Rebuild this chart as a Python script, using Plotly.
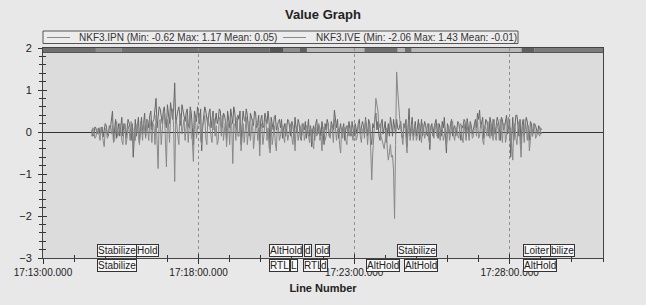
import plotly.graph_objects as go
import pandas as pd

# ---------------- data ----------------
BASE = pd.Timestamp("2024-01-01 17:13:00")
X_END_MIN = 18
DATA_START_S = 94
STEP_S = 4  # samples below at whole steps; *_mid samples lie half a step later

ipn = [
    0.05, -0.08, 0.1, 0.02, -0.05, 0.12, 0.0, 0.15, -0.1, 0.08,
    0.5, 0.1, -0.15, 0.2, 0.25, -0.1, 0.18, 0.05, 0.22, -0.2, -0.6,
    0.3, 0.1, -0.25, 0.35, 0.15, -0.1, 0.28, 0.4, 0.05, 0.3,
    0.8, 0.35, 0.55, 0.2, 0.6, 0.1, 0.45, 0.7, 0.3, 1.17,
    0.4, 0.6, 0.15, 0.5, 0.25, 0.55, 0.1, 0.45, -0.3, 0.35, 0.6, 0.2, -0.45, 0.4, 0.5, 0.15, 0.55, 0.3, 0.05, 0.45,
    0.3, 0.5, 0.1, 0.4, -0.2, 0.35, 0.55, 0.2, 0.45, 0.05, 0.3, -0.3, 0.5, 0.25, 0.4, -0.1, 0.35, 0.15, 0.45, 0.2,
    -0.3, 0.4, 0.15, 0.3, 0.5, -0.4, 0.2, 0.35, 0.05, 0.25,
    0.1, -0.15, 0.2, 0.05, 0.25, -0.1, 0.15, 0.35, 0.0, 0.2, -0.2, 0.1, 0.25, 0.05, -0.1,
    -0.35, 0.15, 0.2, -0.05, 0.1, 0.25, -0.3, 0.05, 0.2, -0.1, 0.15, 0.52, 0.1, -0.15, 0.2,
    0.05, -0.2, 0.15, 0.25, -0.1, 0.1, 0.2, -0.05, 0.3, 0.1,
    0.15, 0.35, -0.1, 0.2, -0.3, 0.1, 0.45, 0.25, -0.2, 0.3, 0.1, -0.25, 0.2, 0.35, -0.1, 0.15, 0.3, 0.05, 0.25, -0.15,
    0.1, -0.35, 0.56, 0.2, -0.1, 0.25, 0.1, -0.2, 0.3, 0.05, 0.15, -0.1, -0.42, 0.2, 0.1, 0.3, -0.15, 0.05, 0.25, 0.35, -0.5, 0.1, 0.2, -0.1, 0.15,
    0.05, 0.2, -0.2, 0.1, 0.25, 0.32, -0.1, 0.15, 0.05, 0.3, 0.45, 0.52, 0.2, -0.15, 0.3, 0.1, 0.35, -0.1, 0.2, 0.15,
    0.25, -0.2, 0.3, 0.1, 0.4, 0.2, -0.6, 0.35, 0.15, 0.4, -0.1, -0.3, 0.3, 0.1, 0.25, -0.2, 0.2, 0.05, 0.15, -0.05, 0.1, 0.0,
]
ipn_mid = [
    -0.1, 0.12, -0.05, 0.1, 0.05, -0.12, 0.2, -0.05, 0.15, 0.25,
    -0.2, 0.3, 0.1, -0.1, 0.35, 0.2, -0.15, 0.3, 0.1, 0.2, 0.1,
    -0.1, 0.35, 0.2, -0.05, 0.45, 0.3, 0.1, 0.5, 0.25, 0.55,
    0.1, 0.6, 0.3, 0.5, 0.25, 0.65, 0.2, 0.4, 0.55, 0.2,
    0.5, 0.25, 0.65, 0.3, 0.45, 0.2, 0.6, 0.1, 0.5, 0.25, 0.4, 0.55, 0.15, 0.6, 0.25, 0.45, 0.1, 0.5, 0.35, 0.2,
    0.55, 0.15, 0.45, 0.25, 0.5, 0.1, 0.35, 0.6, 0.1, 0.4, 0.5, 0.2, 0.3, 0.55, 0.1, 0.45, 0.25, 0.5, 0.1, 0.4,
    0.3, 0.1, 0.45, 0.2, 0.25, 0.35, 0.05, 0.4, 0.2, 0.3,
    0.3, 0.1, -0.1, 0.3, 0.05, 0.25, -0.15, 0.1, 0.3, -0.1, 0.2, 0.05, -0.15, 0.3, 0.15,
    0.05, -0.2, 0.3, 0.15, -0.1, 0.05, 0.2, 0.3, -0.1, 0.25, 0.05, 0.2, 0.3, 0.05, -0.05,
    0.2, 0.1, -0.1, 0.05, 0.25, -0.1, 0.05, 0.2, -0.05, 0.25,
    -0.05, 0.1, 0.3, -0.15, 0.2, 0.3, 0.05, -0.1, 0.2, -0.05, 0.25, 0.1, -0.1, 0.2, 0.3, -0.05, 0.1, 0.2, -0.1, 0.2,
    0.3, 0.1, -0.1, 0.35, 0.15, -0.1, 0.3, 0.05, -0.1, 0.25, -0.05, 0.2, 0.1, -0.1, 0.25, 0.05, 0.2, -0.1, 0.1, -0.1, 0.2, -0.05, 0.3, 0.1, -0.1,
    0.25, -0.05, 0.15, 0.3, -0.1, 0.15, 0.25, -0.05, 0.2, 0.1, 0.3, 0.1, 0.35, 0.05, 0.25, -0.1, 0.2, 0.3, -0.05, 0.35,
    0.1, 0.35, 0.05, 0.3, -0.05, 0.3, 0.1, -0.2, 0.4, 0.05, 0.3, 0.15, -0.1, 0.35, -0.05, 0.25, -0.1, 0.2, 0.05, 0.15, -0.05,
]

ive = [
    -0.1, 0.05, -0.12, 0.08, -0.2, 0.0, -0.35, 0.1, -0.05, 0.12,
    0.15, -0.2, 0.25, -0.05, 0.1, -0.3, 0.2, -0.15, 0.05, 0.25, -0.3,
    -0.2, 0.2, -0.3, 0.1, 0.25, -0.15, 0.05, 0.3, -0.25, 0.15,
    0.4, -0.87, 0.3, 0.1, 0.5, -0.83, 0.2, 0.35, 0.55, -1.18,
    0.2, -0.3, 0.35, 0.1, -0.2, 0.4, 0.15, -0.1, -0.7, 0.3, 0.1, 0.45, -0.3, 0.2, -0.15, 0.35, 0.1, -0.25, 0.3, 0.15,
    -0.2, 0.25, 0.4, 0.05, -0.35, 0.2, 0.3, -0.75, 0.15, 0.35, -0.1, -0.45, 0.2, 0.1, -0.3, 0.25, 0.05, -0.4, 0.15, -0.2,
    -0.57, 0.2, -0.1, 0.3, 0.1, -0.5, -0.3, 0.15, -0.45, 0.1,
    -0.1, 0.15, -0.25, 0.1, -0.05, 0.2, -0.3, -0.45, 0.15, 0.05, -0.15, 0.2, -0.1, 0.1, -0.25,
    0.05, -0.4, 0.15, 0.0, -0.2, -0.45, 0.1, -0.1, 0.2, -0.15, 0.05, 0.3, -0.2, 0.1, -0.5,
    -0.15, 0.1, -0.3, 0.05, 0.15, -0.2, 0.1, -0.1, 0.2, -0.25,
    0.1, 0.3, -0.3, 0.2, -1.14, -0.2, 0.8, 0.5, 0.2, -0.2, -0.4, 0.1, -0.67, -0.3, -0.55, -2.06, 1.43, 0.6, 0.1, -0.3,
    0.2, -0.5, 0.3, 0.05, -0.2, 0.15, -0.1, 0.2, -0.25, 0.1, -0.05, 0.2, -0.3, 0.1, -0.15, 0.05, 0.2, -0.2, 0.1, -0.1, -0.35, 0.15, -0.05, 0.25, -0.2,
    0.1, -0.15, 0.2, -0.25, 0.05, 0.15, -0.2, 0.1, -0.1, 0.2, 0.3, -0.1, 0.15, -0.3, 0.1, 0.25, -0.15, 0.05, 0.3, -0.2,
    0.1, 0.3, -0.25, 0.2, -0.1, 0.35, 0.1, -0.67, 0.2, -0.3, 0.25, -0.6, 0.15, 0.3, -0.2, -0.45, 0.1, 0.2, -0.15, 0.05, -0.1, 0.05,
]
ive_mid = [
    0.1, -0.15, 0.05, -0.1, 0.12, -0.2, 0.05, -0.15, 0.1, -0.05,
    -0.25, 0.1, -0.1, 0.2, -0.2, 0.05, -0.3, 0.15, -0.2, -0.05, 0.1,
    0.15, -0.1, 0.25, -0.2, 0.05, 0.3, -0.2, 0.1, 0.2, -0.3,
    -0.2, 0.25, -0.3, 0.4, -0.15, 0.3, -0.25, 0.45, 0.1, 0.3,
    -0.1, 0.45, -0.05, 0.3, 0.2, -0.25, 0.5, -0.2, 0.2, -0.15, 0.35, -0.2, 0.15, 0.4, -0.3, 0.2, -0.1, 0.4, -0.1, -0.3,
    0.35, -0.1, -0.2, 0.3, 0.1, -0.3, 0.15, 0.2, -0.2, -0.1, 0.3, 0.05, -0.25, 0.35, 0.05, -0.2, 0.3, -0.1, 0.25, 0.1,
    0.1, -0.3, 0.25, -0.2, -0.35, 0.2, -0.1, -0.25, 0.2, -0.2,
    0.15, -0.1, 0.2, -0.2, 0.15, -0.15, 0.1, 0.05, -0.2, 0.15, -0.05, -0.2, 0.15, -0.15, 0.1,
    -0.3, 0.1, -0.1, 0.2, -0.1, 0.1, -0.2, 0.15, -0.1, 0.2, -0.25, 0.1, 0.05, -0.3, 0.1,
    0.1, -0.2, 0.15, -0.1, -0.05, 0.15, -0.2, 0.15, -0.1, 0.05,
    -0.15, 0.05, 0.1, -0.4, -0.5, 0.3, 0.6, 0.1, -0.1, -0.3, -0.2, -0.4, -0.5, -0.6, -0.9, -0.3, 1.0, 0.3, -0.1, 0.15,
    -0.15, 0.1, -0.2, 0.2, -0.05, -0.2, 0.15, -0.1, 0.2, -0.15, 0.1, -0.2, 0.15, -0.05, 0.2, -0.1, -0.05, 0.15, -0.2, 0.1, 0.05, -0.2, 0.15, -0.1, 0.1,
    -0.1, 0.15, -0.1, 0.2, -0.2, -0.05, 0.2, -0.15, 0.15, -0.1, -0.15, 0.2, -0.2, 0.15, -0.1, -0.05, 0.2, -0.2, -0.1, 0.2,
    -0.2, 0.05, 0.2, -0.25, 0.25, -0.15, -0.3, 0.1, -0.15, 0.1, -0.2, 0.05, -0.25, 0.1, 0.15, -0.2, -0.1, 0.15, -0.1, -0.05, 0.1,
]

series_names = ["NKF3.IPN", "NKF3.IVE"]
legend_labels = [
    "NKF3.IPN (Min: -0.62 Max: 1.17 Mean: 0.05)",
    "NKF3.IVE (Min: -2.06 Max: 1.43 Mean: -0.01)",
]

# flight-mode strip along the top (seconds after 17:13:00)
strip_start_s = [0, 102, 152, 437, 464, 495, 509, 620, 684, 698, 711, 923, 948]
strip_end_s = [102, 152, 437, 464, 495, 509, 620, 684, 698, 711, 923, 948, 1080]
strip_shade = ["#707070", "#8e8e8e", "#707070", "#555555", "#8e8e8e", "#606060", "#b8b8b8",
               "#707070", "#b8b8b8", "#707070", "#b8b8b8", "#606060", "#7c7c7c"]

# flight-mode labels at the bottom (seconds after 17:13:00, text, row)
mode_label_s = [104, 179, 435, 503, 524, 682, 925, 977,
                104, 435, 476, 501, 534, 622, 696, 925]
mode_label_text = ["Stabilize", "Hold", "AltHold", "d", "old", "Stabilize", "Loiter", "bilize",
                   "Stabilize", "RTL", "L", "RTL", "d", "AltHold", "AltHold", "AltHold"]
mode_label_row = [0, 0, 0, 0, 0, 0, 0, 0,
                  1, 1, 1, 1, 1, 1, 1, 1]

# ---------------- figure ----------------
W, H = 646, 305
ML, MR, MT, MB = 43, 43, 48, 47
PW, PH = W - ML - MR, H - MT - MB
FONT = "Liberation Sans, Arial, sans-serif"
TXT = "#222222"


def ts(sec):
    return (BASE + pd.Timedelta(seconds=sec)).strftime("%Y-%m-%d %H:%M:%S.%f")


def interleave(main, mid):
    out_t, out_v = [], []
    for i, v in enumerate(main):
        out_t.append(ts(DATA_START_S + i * STEP_S))
        out_v.append(v)
        if i < len(mid):
            out_t.append(ts(DATA_START_S + i * STEP_S + STEP_S / 2))
            out_v.append(mid[i])
    return out_t, out_v


x_range = [ts(0), ts(X_END_MIN * 60)]

fig = go.Figure()
line_colors = ["#666666", "#888888"]
for name, main, mid, col in zip(series_names, [ipn, ive], [ipn_mid, ive_mid], line_colors):
    tx, vy = interleave(main, mid)
    fig.add_trace(go.Scatter(x=tx, y=vy, mode="lines", name=name,
                             line=dict(color=col, width=1), showlegend=False))
# empty trace to activate overlay axes (for ticks crossing the axis lines)
fig.add_trace(go.Scatter(x=[], y=[], xaxis="x2", yaxis="y2", showlegend=False))

shapes = []
for s0, s1, c in zip(strip_start_s, strip_end_s, strip_shade):
    shapes.append(dict(type="rect", xref="x", yref="paper", x0=ts(s0), x1=ts(s1),
                       y0=1 - 4.5 / PH, y1=1, fillcolor=c, line=dict(width=0), layer="between"))
shapes.append(dict(type="line", xref="paper", yref="paper", x0=0, x1=1,
                   y0=1 - 4.5 / PH, y1=1 - 4.5 / PH, line=dict(color="#555555", width=1)))


def py(ypx):
    return (H - MB - ypx) / PH


def px(xpx):
    return (xpx - ML) / PW


# manual legend box
shapes.append(dict(type="rect", xref="paper", yref="paper", x0=px(43), x1=px(518),
                   y0=py(43.5), y1=py(31), fillcolor="#ececec",
                   line=dict(color="#555555", width=1)))
annotations = []
leg_line_x = [(47, 70), (283, 306)]
leg_text_x = [77, 314]
for (a, b), tx, lab in zip(leg_line_x, leg_text_x, legend_labels):
    shapes.append(dict(type="line", xref="paper", yref="paper", x0=px(a), x1=px(b),
                       y0=py(37.5), y1=py(37.5), line=dict(color="#8a8a8a", width=1)))
    annotations.append(dict(xref="paper", yref="paper", x=px(tx), y=py(37.5), xanchor="left",
                            yanchor="middle", text=lab, showarrow=False,
                            font=dict(family=FONT, size=10, color="#333333")))

for sec, txt, row in zip(mode_label_s, mode_label_text, mode_label_row):
    annotations.append(dict(
        xref="x", yref="paper", x=ts(sec),
        y=(1.5 / PH) if row == 0 else (-0.5 / PH),
        xanchor="left", yanchor="bottom" if row == 0 else "top",
        text=txt, showarrow=False, bgcolor="#f7f7f7", bordercolor="#333333",
        borderwidth=1, borderpad=0, font=dict(family=FONT, size=10, color=TXT)))

fig.update_layout(
    width=W, height=H,
    margin=dict(l=ML, r=MR, t=MT, b=MB, autoexpand=False),
    paper_bgcolor="#e8e8e8", plot_bgcolor="#dcdcdc",
    title=dict(text="<b>Value Graph</b>", x=0.5, xref="paper", xanchor="center",
               y=1 - 14 / H, yanchor="middle",
               font=dict(family=FONT, size=13, color=TXT)),
    font=dict(family=FONT, size=10, color=TXT),
    shapes=shapes, annotations=annotations,
    xaxis=dict(type="date", range=x_range, tick0=ts(0), dtick=300000,
               tickformat="%H:%M:%S.000", showgrid=True, griddash="dot",
               gridcolor="#8e8e8e", gridwidth=1, ticks="outside", ticklen=5,
               tickcolor="#333333", showline=True, linecolor="#444444", mirror=True,
               zeroline=False, tickfont=dict(family=FONT, size=10, color=TXT),
               minor=dict(dtick=60000, ticks="outside", ticklen=3, tickcolor="#333333",
                          showgrid=False),
               title=dict(text="<b>Line Number</b>", standoff=7,
                          font=dict(family=FONT, size=11, color=TXT)),
               automargin=False),
    xaxis2=dict(type="date", overlaying="x", range=x_range, tick0=ts(0), dtick=300000,
                showticklabels=False, showgrid=False, ticks="inside", ticklen=4,
                tickcolor="#333333", zeroline=False, showline=False, side="bottom",
                anchor="y2",
                minor=dict(dtick=60000, ticks="inside", ticklen=3, tickcolor="#333333",
                           showgrid=False)),
    yaxis=dict(range=[-3, 2], dtick=1, tick0=0, showgrid=False, ticks="outside",
               ticklen=4, tickcolor="#333333", showline=True, linecolor="#444444",
               mirror=True, zeroline=True, zerolinecolor="#333333", zerolinewidth=1,
               ticklabelstandoff=4, tickfont=dict(family=FONT, size=11, color=TXT),
               minor=dict(dtick=0.2, ticks="outside", ticklen=3, tickcolor="#333333",
                          showgrid=False),
               automargin=False),
    yaxis2=dict(overlaying="y", range=[-3, 2], dtick=1, tick0=0, side="left",
                showticklabels=False, showgrid=False, ticks="inside", ticklen=4,
                tickcolor="#333333", zeroline=False, showline=False, anchor="x2",
                minor=dict(dtick=0.2, ticks="inside", ticklen=3, tickcolor="#333333",
                           showgrid=False)),
)

fig.write_html("out.html")
